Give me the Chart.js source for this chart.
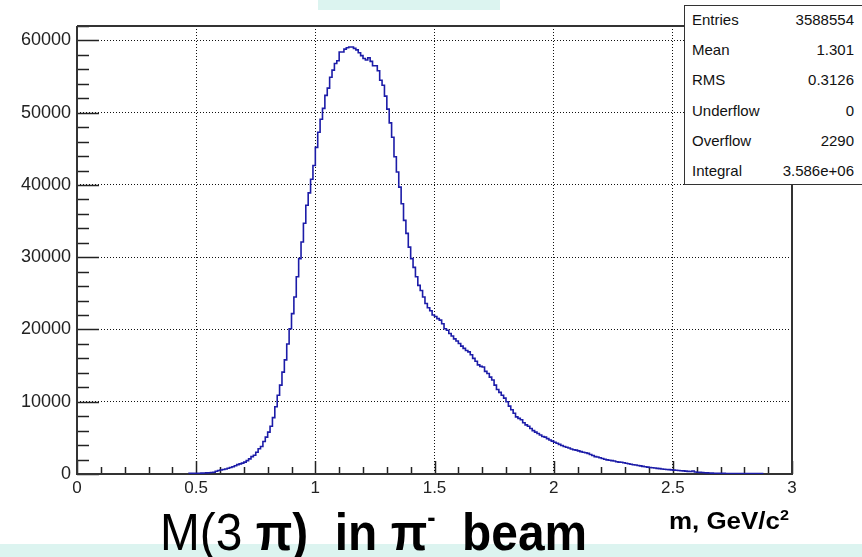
<!DOCTYPE html>
<html>
<head>
<meta charset="utf-8">
<script src="https://cdn.jsdelivr.net/npm/chart.js@4/dist/chart.umd.min.js"></script>
<style>
    html, body { margin: 0; padding: 0; background: #fff; }
    #wrap { position: relative; width: 862px; height: 557px; overflow: hidden; font-family: "Liberation Sans", Arial, sans-serif; }
    .band { position: absolute; background: #dcf4f0; }
    #chartBox { position: absolute; left: 0; top: 0; width: 862px; height: 557px; }
    #stats { position: absolute; left: 684px; top: 5px; width: 200px; height: 178px; border: 1.5px solid #333; background: #fff; }
    #stats div { position: absolute; left: 0; width: 169px; height: 20px; font-size: 15px; color: #111; }
    #stats .k { position: absolute; left: 7px; }
    #stats .v { position: absolute; right: 0; }
    #title { position: absolute; left: 160px; top: 502px; font-size: 52px; line-height: 60px; color: #000; white-space: pre; transform: scaleX(0.92); transform-origin: left; }
    #title sup { font-size: 27px; line-height: 0; vertical-align: baseline; position: relative; top: -23px; }
    #unit { position: absolute; left: 669px; top: 507px; font-size: 24px; line-height: 28px; font-weight: bold; white-space: pre; transform: scaleX(1.08); transform-origin: left; }
    #unit sup { font-size: 15px; line-height: 0; vertical-align: baseline; position: relative; top: -9px; }
</style>
</head>
<body>
<div id="wrap">
    <div class="band" style="left:318px; top:0; width:182px; height:10px;"></div>
    <div class="band" style="left:0; top:544px; width:862px; height:13px;"></div>
    <div id="chartBox"><canvas id="massChart"></canvas></div>
    <div id="stats"></div>
    <div id="title">M(3 <b>π)  in π<sup>-</sup>  beam</b></div>
    <div id="unit">m, GeV/c<sup>2</sup></div>
</div>
<script>
// Histogram of M(3 pi), 0.01 GeV bins starting at 0.47
const binLow = 0.47;
const binWidth = 0.01;
const counts = [
    80, 85, 90, 95, 100, 110, 120, 130, 150, 170,
    200, 250, 380, 480, 550, 620, 700, 800, 900, 1000,
    1150, 1300, 1400, 1500, 1650, 1850, 2100, 2400, 2600, 3000,
    3500, 3800, 4500, 5100, 5800, 6600, 7800, 9300, 10900, 12300,
    14100, 15800, 18000, 20100, 22200, 24500, 27300, 29800, 32100, 34700,
    37200, 38900, 40800, 42700, 45200, 47300, 49100, 50600, 52400, 53400,
    54900, 55900, 56800, 57200, 58400, 58400, 58800, 59000, 59100, 59100,
    58900, 58700, 58300, 57900, 57500, 57300, 57600, 57100, 56500, 56500,
    55800, 54500, 53800, 52300, 50500, 48600, 46600, 43900, 41800, 39700,
    37400, 35100, 33300, 31400, 29800, 28600, 27300, 26100, 25400, 24500,
    23600, 23000, 22600, 22000, 21800, 21500, 21300, 20800, 20100, 19900,
    19450, 19100, 18700, 18400, 18070, 17700, 17380, 17100, 16900, 16500,
    16000, 15600, 15100, 14900, 14800, 14200, 13900, 13400, 13000, 12300,
    11700, 11300, 10900, 10500, 10000, 9400, 8900, 8400, 7900, 7700,
    7500, 7100, 6800, 6600, 6300, 6000, 5800, 5600, 5400, 5200,
    5100, 4900, 4700, 4550, 4400, 4250, 4100, 3950, 3800, 3700,
    3600, 3450, 3350, 3300, 3200, 3100, 3000, 2950, 2850, 2700,
    2550, 2400, 2350, 2250, 2150, 2050, 1950, 1900, 1850, 1800,
    1700, 1650, 1620, 1550, 1480, 1420, 1350, 1280, 1240, 1180,
    1120, 1060, 1000, 950, 900, 860, 820, 780, 740, 700,
    660, 630, 600, 570, 540, 510, 480, 460, 430, 400,
    370, 340, 420, 280, 250, 230, 200, 180, 160, 140,
    120, 110, 100, 90, 85, 80, 75, 70, 70, 65,
    65, 60, 60, 55, 55, 50, 50, 50, 45, 45,
    45
];

const xTickLabels = ['0', '0.5', '1', '1.5', '2', '2.5', '3'];
const yTickLabels = ['0', '10000', '20000', '30000', '40000', '50000', '60000'];

const statNames = ['Entries', 'Mean', 'RMS', 'Underflow', 'Overflow', 'Integral'];
const statValues = ['3588554', '1.301', '0.3126', '0', '2290', '3.586e+06'];

// stats box
const statsEl = document.getElementById('stats');
statNames.forEach(function(name, i) {
    const row = document.createElement('div');
    row.style.top = (5 + i * 30.2) + 'px';
    row.innerHTML = '<span class="k">' + name + '</span><span class="v">' + statValues[i] + '</span>';
    statsEl.appendChild(row);
});

// step outline points at bin edges
const histPoints = counts.map(function(c, i) {
    return { x: binLow + i * binWidth, y: c };
});
histPoints.push({ x: binLow + counts.length * binWidth, y: counts[counts.length - 1] });

// ROOT style frame with ticks inside the pad
const frameTicks = {
    id: 'frameTicks',
    beforeDatasetsDraw(chart) {
        const ctx = chart.ctx;
        const area = chart.chartArea;
        const xs = chart.scales.x;
        const ys = chart.scales.y;
        ctx.save();
        ctx.strokeStyle = '#222';
        ctx.lineWidth = 1.5;
        // x ticks every 0.1, major every 0.5
        for (let k = 0; k <= 30; k++) {
            const px = Math.round(xs.getPixelForValue(k / 10)) + 0.5;
            const len = (k % 5 === 0) ? 13 : 7;
            ctx.beginPath();
            ctx.moveTo(px, area.bottom);
            ctx.lineTo(px, area.bottom - len);
            ctx.stroke();
        }
        // y ticks every 2000, major every 10000
        for (let v = 0; v <= ys.max; v += 2000) {
            const py = Math.round(ys.getPixelForValue(v)) + 0.5;
            const len = (v % 10000 === 0) ? 22 : 12;
            ctx.beginPath();
            ctx.moveTo(area.left, py);
            ctx.lineTo(area.left + len, py);
            ctx.stroke();
        }
        // frame
        ctx.lineWidth = 2;
        ctx.strokeStyle = '#333';
        ctx.beginPath();
        ctx.moveTo(area.left, area.top);
        ctx.lineTo(area.left, area.bottom);
        ctx.lineTo(area.right, area.bottom);
        ctx.lineTo(area.right, 184);
        ctx.moveTo(area.left, area.top);
        ctx.lineTo(684, area.top);
        ctx.stroke();
        ctx.restore();
    }
};

new Chart(document.getElementById('massChart'), {
    type: 'line',
    data: {
        datasets: [{
            data: histPoints,
            stepped: 'after',
            borderColor: '#1c1ca8',
            borderWidth: 1.6,
            pointRadius: 0,
            fill: false
        }]
    },
    options: {
        responsive: true,
        maintainAspectRatio: false,
        animation: false,
        events: [],
        layout: {
            padding: { top: 26, right: 70, bottom: 0, left: 0 }
        },
        plugins: {
            legend: { display: false },
            tooltip: { enabled: false }
        },
        scales: {
            x: {
                type: 'linear',
                min: 0,
                max: 3,
                afterFit: function(scale) { scale.height = 83; },
                afterBuildTicks: function(scale) {
                    scale.ticks = xTickLabels.map(function(l) { return { value: parseFloat(l) }; });
                },
                ticks: {
                    padding: 4,
                    color: '#222',
                    font: { family: 'Liberation Sans', size: 17 },
                    maxRotation: 0,
                    autoSkip: false,
                    callback: function(v, i) { return xTickLabels[i]; }
                },
                grid: {
                    drawTicks: false,
                    color: function(c) {
                        return (c.tick && (c.tick.value === 0 || c.tick.value === 3)) ? 'rgba(0,0,0,0)' : '#111';
                    },
                    lineWidth: 1
                },
                border: { display: false, dash: [1, 2] }
            },
            y: {
                type: 'linear',
                min: 0,
                max: 62000,
                afterFit: function(scale) { scale.width = 77; },
                afterBuildTicks: function(scale) {
                    scale.ticks = yTickLabels.map(function(l) { return { value: parseFloat(l) }; });
                },
                ticks: {
                    padding: 6,
                    color: '#222',
                    font: { family: 'Liberation Sans', size: 18 },
                    callback: function(v, i) { return yTickLabels[i]; }
                },
                grid: {
                    drawTicks: false,
                    color: function(c) {
                        return (c.tick && c.tick.value === 0) ? 'rgba(0,0,0,0)' : '#111';
                    },
                    lineWidth: 1
                },
                border: { display: false, dash: [1, 2] }
            }
        }
    },
    plugins: [frameTicks]
});
</script>
</body>
</html>
